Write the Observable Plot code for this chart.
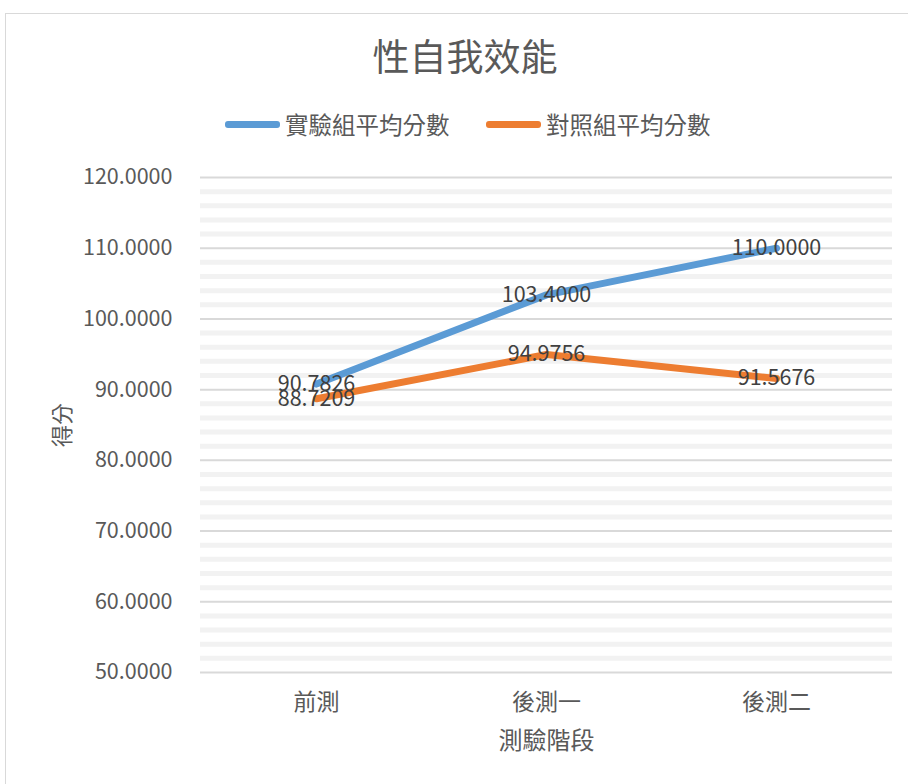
<!DOCTYPE html>
<html>
<head>
<meta charset="utf-8">
<script src="https://cdn.jsdelivr.net/npm/d3@7"></script>
<script src="https://cdn.jsdelivr.net/npm/@observablehq/plot@0.6"></script>
<style>
  html, body { margin: 0; padding: 0; background: #fff; }
  body { width: 908px; height: 784px; overflow: hidden; position: relative; font-family: "Noto Sans CJK TC", "Noto Sans", sans-serif; }
  #frame { position: absolute; left: 5px; top: 13px; width: 930px; height: 800px; border: 1px solid #d9d9d9; box-sizing: border-box; }
  #title { position: absolute; left: 0; top: 30px; width: 908px; text-align: center; font-size: 37px; color: #595959; line-height: 50px; padding-left: 22px; box-sizing: border-box; }
  #legend { position: absolute; top: 109px; left: 0; width: 908px; height: 30px; }
  .item { position: absolute; top: 0; display: flex; align-items: center; height: 30px; font-size: 23.5px; color: #595959; }
  .swatch { width: 55px; height: 7px; border-radius: 3px; margin-right: 5px; }
  #chart { position: absolute; left: 0; top: 0; }
</style>
</head>
<body>
<div id="frame"></div>
<div id="title"></div>
<div id="legend"></div>
<div id="chart"></div>
<script>
const title = "性自我效能";
const stages = ["前測", "後測一", "後測二"];
const seriesNames = ["實驗組平均分數", "對照組平均分數"];
const experimental = [90.7826, 103.4, 110.0];
const control = [88.7209, 94.9756, 91.5676];
const colors = ["#5B9BD5", "#ED7D31"];
const yTicks = [50, 60, 70, 80, 90, 100, 110, 120];
const xLabel = "測驗階段";
const yLabel = "得分";

document.getElementById("title").textContent = title;
const legend = document.getElementById("legend");
const legendLefts = [225, 486];
seriesNames.forEach((name, i) => {
  const it = document.createElement("div");
  it.className = "item";
  it.style.left = legendLefts[i] + "px";
  const sw = document.createElement("div");
  sw.className = "swatch";
  sw.style.background = colors[i];
  const tx = document.createElement("span");
  tx.textContent = name;
  it.appendChild(sw); it.appendChild(tx);
  legend.appendChild(it);
});

const data = [];
stages.forEach((s, i) => {
  data.push({stage: s, value: experimental[i], series: seriesNames[0]});
  data.push({stage: s, value: control[i], series: seriesNames[1]});
});
const minorTicks = d3.range(50, 121, 2).filter(v => v % 10 !== 0);

const plot = Plot.plot({
  width: 908,
  height: 784,
  marginLeft: 200,
  marginRight: 16,
  marginTop: 177,
  marginBottom: 112,
  style: { fontFamily: "'Noto Sans CJK TC', 'Noto Sans', sans-serif", background: "transparent", color: "#595959" },
  x: { type: "point", domain: stages, padding: 0.5 },
  y: { domain: [50, 120] },
  color: { domain: seriesNames, range: colors },
  marks: [
    Plot.ruleY(minorTicks, { stroke: "#f2f2f2", strokeWidth: 5 }),
    Plot.ruleY(yTicks, { stroke: "#d9d9d9", strokeWidth: 2 }),
    Plot.axisY({ ticks: yTicks, tickFormat: d3.format(".4f"), tickSize: 0, tickPadding: 28, fontSize: 21.5, fill: "#595959", label: null }),
    Plot.axisX({ tickSize: 0, tickPadding: 21, fontSize: 23, fill: "#595959", label: null }),
    Plot.text([xLabel], { frameAnchor: "bottom", dy: 76, fontSize: 24, fill: "#595959" }),
    Plot.text([yLabel], { frameAnchor: "left", textAnchor: "middle", dx: -138, rotate: -90, fontSize: 22, fill: "#595959" }),
    Plot.line(data, { x: "stage", y: "value", z: "series", stroke: "series", strokeWidth: 7, strokeLinecap: "round", strokeLinejoin: "round" }),
    Plot.text(data, { x: "stage", y: "value", text: d => d3.format(".4f")(d.value), fontSize: 21.5, fill: "#404040" })
  ]
});
document.getElementById("chart").appendChild(plot);
</script>
</body>
</html>
